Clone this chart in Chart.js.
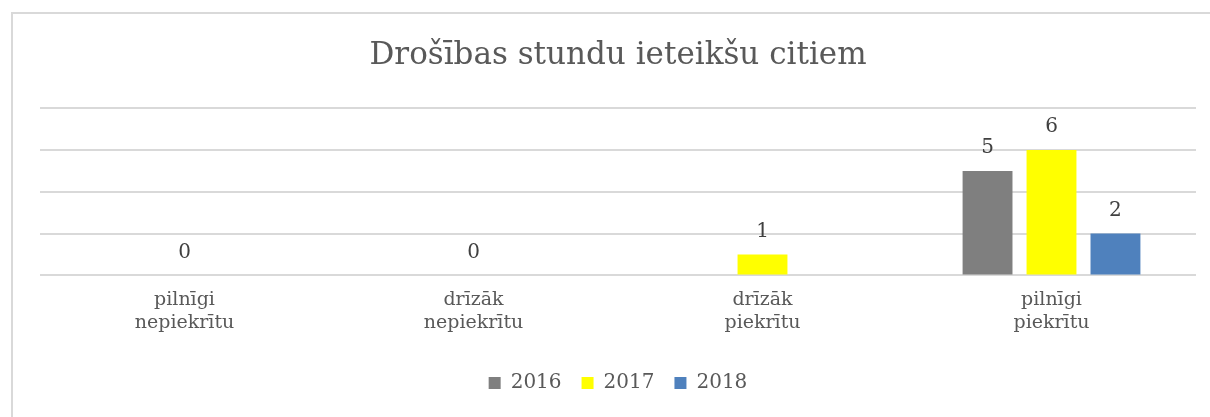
<!DOCTYPE html>
<html lang="lv">
<head>
    <meta charset="UTF-8">
    <title>Drošības stundu ieteikšu citiem</title>
    <script src="https://cdn.jsdelivr.net/npm/chart.js"></script>
    <style>
        html, body {
            margin: 0;
            background: white;
            overflow: hidden;
        }
        .edge {
            position: absolute;
            background: #d9d9d9;
        }
        .box {
            position: absolute;
            left: 13px;
            top: 14px;
            width: 1197px;
            height: 403px;
        }
    </style>
</head>
<body>

    <div class="edge" style="left: 11px; top: 12px; width: 2px; height: 405px;"></div>
    <div class="edge" style="left: 11px; top: 12px; width: 1199px; height: 2px;"></div>
    <div class="box">
        <canvas id="chart"></canvas>
    </div>

    <script>
        const categories = [['pilnīgi', 'nepiekrītu'], ['drīzāk', 'nepiekrītu'], ['drīzāk', 'piekrītu'], ['pilnīgi', 'piekrītu']];
        const years = ['2016', '2017', '2018'];
        const values2016 = [null, null, null, 5];
        const values2017 = [0, 0, 1, 6];
        const values2018 = [null, null, null, 2];
        const colors = ['#7f7f7f', '#ffff00', '#4f81bd'];

        const serif = "'DejaVu Serif', serif";

        // draws the number above each bar
        const valueLabels = {
            id: 'valueLabels',
            afterDatasetsDraw(chart) {
                const ctx = chart.ctx;
                ctx.save();
                ctx.font = '20px ' + serif;
                ctx.fillStyle = '#404040';
                ctx.textAlign = 'center';
                ctx.textBaseline = 'middle';
                chart.data.datasets.forEach((ds, i) => {
                    chart.getDatasetMeta(i).data.forEach((bar, j) => {
                        if (ds.data[j] === null) return;
                        ctx.fillText(ds.data[j], bar.x, bar.y - 23);
                    });
                });
                ctx.restore();
            }
        };

        new Chart(document.getElementById('chart'), {
            type: 'bar',
            data: {
                labels: categories,
                datasets: [
                    { label: years[0], data: values2016, backgroundColor: colors[0] },
                    { label: years[1], data: values2017, backgroundColor: colors[1] },
                    { label: years[2], data: values2018, backgroundColor: colors[2] }
                ]
            },
            options: {
                responsive: true,
                maintainAspectRatio: false,
                animation: false,
                datasets: {
                    bar: { categoryPercentage: 0.664, barPercentage: 0.78 }
                },
                layout: {
                    padding: { left: 27, right: 14, top: 23, bottom: 14 }
                },
                plugins: {
                    title: {
                        display: true,
                        text: 'Drošības stundu ieteikšu citiem',
                        color: '#595959',
                        font: { family: serif, size: 31, weight: 'normal', lineHeight: 1.2 },
                        padding: { top: 0, bottom: 34 }
                    },
                    legend: {
                        position: 'bottom',
                        labels: {
                            color: '#595959',
                            font: { family: serif, size: 20 },
                            boxWidth: 12,
                            boxHeight: 12,
                            padding: 20
                        }
                    },
                    tooltip: { enabled: false }
                },
                scales: {
                    x: {
                        grid: { display: false },
                        border: { display: false },
                        ticks: {
                            color: '#595959',
                            font: { family: serif, size: 19, lineHeight: 1.2 },
                            padding: 5
                        },
                        // extra room between the labels and the legend
                        afterFit(scale) {
                            scale.height += 14;
                        }
                    },
                    y: {
                        min: 0,
                        max: 8,
                        ticks: { stepSize: 2, display: false },
                        border: { display: false },
                        grid: { color: '#d9d9d9', lineWidth: 2, drawTicks: false }
                    }
                }
            },
            plugins: [valueLabels]
        });
    </script>

</body>
</html>
